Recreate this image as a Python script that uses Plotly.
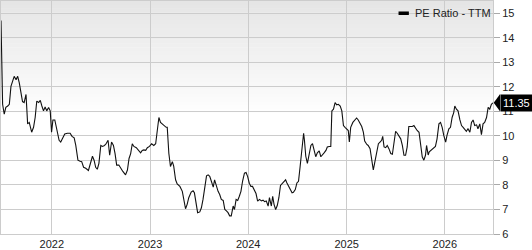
import plotly.graph_objects as go

dates = [
    "2021-06-26", "2021-07-02", "2021-07-08", "2021-07-14", "2021-07-21", "2021-07-27",
    "2021-08-02", "2021-08-08", "2021-08-14", "2021-08-21", "2021-08-27", "2021-09-02",
    "2021-09-08", "2021-09-14", "2021-09-20", "2021-09-27", "2021-10-03", "2021-10-09",
    "2021-10-18", "2021-10-25", "2021-10-31", "2021-11-06", "2021-11-13", "2021-11-19",
    "2021-11-25", "2021-12-01", "2021-12-07", "2021-12-13", "2021-12-20", "2021-12-26",
    "2021-12-31", "2022-01-05", "2022-01-12", "2022-01-20", "2022-01-28", "2022-02-03",
    "2022-02-10", "2022-02-18", "2022-02-28", "2022-03-10", "2022-03-17", "2022-03-25",
    "2022-03-31", "2022-04-08", "2022-04-16", "2022-04-22", "2022-04-29", "2022-05-07",
    "2022-05-17", "2022-05-26", "2022-06-01", "2022-06-07", "2022-06-13", "2022-06-19",
    "2022-06-25", "2022-07-02", "2022-07-08", "2022-07-14", "2022-07-20", "2022-07-29",
    "2022-08-04", "2022-08-11", "2022-08-18", "2022-08-24", "2022-08-30", "2022-09-07",
    "2022-09-14", "2022-09-22", "2022-10-02", "2022-10-09", "2022-10-15", "2022-10-21",
    "2022-10-27", "2022-11-02", "2022-11-11", "2022-11-21", "2022-11-27", "2022-12-03",
    "2022-12-09", "2022-12-16", "2022-12-22", "2022-12-30", "2023-01-07", "2023-01-15",
    "2023-01-22", "2023-01-28", "2023-02-03", "2023-02-09", "2023-02-15", "2023-02-23",
    "2023-03-02", "2023-03-06", "2023-03-12", "2023-03-18", "2023-03-25", "2023-03-30",
    "2023-04-06", "2023-04-12", "2023-04-22", "2023-05-01", "2023-05-07", "2023-05-13",
    "2023-05-19", "2023-05-25", "2023-06-03", "2023-06-10", "2023-06-15", "2023-06-22",
    "2023-06-27", "2023-07-05", "2023-07-11", "2023-07-17", "2023-07-23", "2023-07-30",
    "2023-08-05", "2023-08-11", "2023-08-17", "2023-08-24", "2023-08-29", "2023-09-05",
    "2023-09-11", "2023-09-17", "2023-09-23", "2023-09-30", "2023-10-06", "2023-10-12",
    "2023-10-18", "2023-10-24", "2023-10-30", "2023-11-06", "2023-11-11", "2023-11-17",
    "2023-11-23", "2023-11-29", "2023-12-05", "2023-12-11", "2023-12-18", "2023-12-24",
    "2023-12-30", "2024-01-05", "2024-01-11", "2024-01-17", "2024-01-24", "2024-01-30",
    "2024-02-05", "2024-02-12", "2024-02-19", "2024-02-25", "2024-03-02", "2024-03-08",
    "2024-03-15", "2024-03-20", "2024-03-27", "2024-04-01", "2024-04-06", "2024-04-12",
    "2024-04-18", "2024-04-24", "2024-04-30", "2024-05-07", "2024-05-13", "2024-05-19",
    "2024-05-24", "2024-05-30", "2024-06-05", "2024-06-12", "2024-06-17", "2024-06-24",
    "2024-06-30", "2024-07-06", "2024-07-12", "2024-07-19", "2024-07-25", "2024-07-28",
    "2024-08-02", "2024-08-08", "2024-08-15", "2024-08-21", "2024-08-27", "2024-09-02",
    "2024-09-08", "2024-09-14", "2024-09-21", "2024-09-27", "2024-10-03", "2024-10-09",
    "2024-10-16", "2024-10-21", "2024-10-28", "2024-11-03", "2024-11-07", "2024-11-13",
    "2024-11-19", "2024-11-25", "2024-12-01", "2024-12-08", "2024-12-14", "2024-12-20",
    "2024-12-26", "2025-01-01", "2025-01-07", "2025-01-11", "2025-01-16", "2025-01-24",
    "2025-02-01", "2025-02-07", "2025-02-13", "2025-02-20", "2025-02-26", "2025-03-04",
    "2025-03-09", "2025-03-17", "2025-03-22", "2025-03-29", "2025-04-04", "2025-04-10",
    "2025-04-16", "2025-04-23", "2025-04-29", "2025-05-05", "2025-05-11", "2025-05-15",
    "2025-05-20", "2025-05-26", "2025-06-01", "2025-06-07", "2025-06-14", "2025-06-20",
    "2025-06-26", "2025-07-02", "2025-07-08", "2025-07-14", "2025-07-21", "2025-07-27",
    "2025-08-02", "2025-08-08", "2025-08-14", "2025-08-20", "2025-08-27", "2025-09-02",
    "2025-09-08", "2025-09-14", "2025-09-20", "2025-09-27", "2025-10-03", "2025-10-09",
    "2025-10-15", "2025-10-21", "2025-10-25", "2025-10-31", "2025-11-04", "2025-11-10",
    "2025-11-19", "2025-11-27", "2025-12-03", "2025-12-10", "2025-12-16", "2025-12-22",
    "2025-12-28", "2026-01-04", "2026-01-09", "2026-01-16", "2026-01-22", "2026-01-28",
    "2026-02-03", "2026-02-07", "2026-02-13", "2026-02-19", "2026-02-26", "2026-03-04",
    "2026-03-10", "2026-03-16", "2026-03-22", "2026-03-28", "2026-04-04", "2026-04-10",
    "2026-04-16", "2026-04-22", "2026-04-29", "2026-05-04", "2026-05-11", "2026-05-17",
    "2026-05-23", "2026-05-29", "2026-06-05", "2026-06-11", "2026-06-17", "2026-06-23",
    "2026-06-29",
]

pe_ratio = [
    14.70, 11.29, 10.89, 11.16, 11.22, 11.29,
    12.02, 12.29, 12.43, 12.29, 12.43, 12.16,
    11.69, 11.40, 11.36, 11.69, 10.49, 10.55,
    10.15, 10.35, 10.75, 11.42, 11.36, 11.45,
    11.22, 11.02, 11.18, 11.02, 11.16, 11.02,
    10.15, 10.65, 10.65, 10.29, 9.82, 9.75,
    9.92, 10.08, 10.11, 10.11, 9.98, 9.92,
    9.61, 9.01, 8.97, 8.95, 8.72, 8.68,
    8.59, 9.01, 9.17, 9.01, 8.72, 8.64,
    8.88, 9.61, 9.57, 9.60, 9.65, 9.82,
    9.21, 9.75, 9.61, 9.28, 8.81, 8.81,
    8.68, 8.55, 8.41, 8.61, 9.08, 9.28,
    9.68, 9.57, 9.52, 9.39, 9.31, 9.41,
    9.43, 9.41, 9.52, 9.57, 9.68, 9.61,
    9.68, 10.22, 10.75, 10.55, 10.49, 10.42,
    10.35, 10.35, 9.28, 8.75, 8.95, 8.77,
    8.21, 8.04, 7.94, 7.74, 7.34, 7.03,
    7.21, 7.48, 7.71, 7.76, 7.68, 7.28,
    6.87, 6.90, 7.07, 7.41, 7.94, 8.37,
    8.41, 8.35, 8.15, 7.91, 8.21, 7.94,
    7.74, 7.61, 7.41, 7.37, 7.00, 6.94,
    6.87, 6.74, 6.74, 7.14, 7.00, 7.41,
    7.37, 7.54, 7.74, 8.15, 8.48, 8.51,
    8.34, 8.07, 7.94, 7.94, 7.81, 7.65,
    7.34, 7.41, 7.35, 7.38, 7.32, 7.35,
    7.14, 7.48, 7.14, 7.54, 7.21, 7.00,
    7.16, 7.48, 7.98, 8.08, 8.15, 8.21,
    8.08, 7.94, 7.78, 7.68, 7.70, 7.81,
    8.08, 8.15, 8.75, 9.55, 10.11, 9.82,
    9.17, 8.88, 9.28, 9.61, 9.68, 9.39,
    9.15, 9.31, 9.39, 9.15, 9.21, 9.31,
    9.41, 9.55, 9.57, 9.57, 11.02, 11.09,
    11.36, 11.27, 11.29, 11.22, 11.02, 10.42,
    10.35, 10.29, 10.22, 9.75, 10.35, 10.55,
    10.65, 10.73, 10.65, 10.49, 10.38, 10.15,
    9.79, 9.65, 9.61, 9.48, 9.01, 8.61,
    8.95, 9.35, 9.68, 9.75, 9.82, 9.98,
    9.55, 9.52, 9.61, 9.48, 9.28, 9.25,
    9.75, 10.19, 10.11, 10.02, 9.88, 9.61,
    9.21, 9.21, 9.55, 10.38, 10.38, 10.38,
    10.42, 10.29, 10.22, 10.15, 9.57, 9.15,
    9.01, 9.21, 9.61, 9.22, 9.35, 9.41,
    9.48, 9.57, 9.88, 10.49, 10.55, 10.35,
    10.02, 9.75, 10.02, 10.29, 10.35, 10.75,
    10.95, 11.22, 11.09, 11.02, 10.65, 10.42,
    10.35, 10.25, 10.19, 10.29, 10.15, 10.55,
    10.65, 10.42, 10.45, 10.29, 10.49, 10.05,
    10.49, 10.55, 10.75, 11.16, 11.09, 11.29,
    11.35,
]

series_name = "PE Ratio - TTM"
year_ticks = ["2022-01-01", "2023-01-01", "2024-01-01", "2025-01-01", "2026-01-01"]
year_labels = ["2022", "2023", "2024", "2025", "2026"]
y_ticks = [6, 7, 8, 9, 10, 11, 12, 13, 14, 15]

FONT = "Arial, 'Liberation Sans', Helvetica, sans-serif"
GRID = "#cccccc"

fig = go.Figure()
fig.add_trace(go.Scatter(
    x=dates, y=pe_ratio, mode="lines",
    line=dict(color="#111111", width=1.1),
    name=series_name, showlegend=False, hoverinfo="skip",
))

shapes = []
# vertical gradient background (light gray at top fading to white)
n_str = 30
top_c, bot_c = 229, 255
for i in range(n_str):
    y1 = 1 - i * 0.5 / n_str
    y0 = 1 - (i + 1) * 0.5 / n_str
    c = round(top_c + (bot_c - top_c) * (i + 0.5) / n_str)
    shapes.append(dict(type="rect", xref="paper", yref="paper",
                       x0=0, x1=1, y0=y0, y1=y1 + 0.002,
                       fillcolor=f"rgb({c},{c},{c})", line=dict(width=0),
                       layer="below"))

# legend swatch
shapes.append(dict(type="rect", xref="paper", yref="paper",
                   x0=0.808, x1=0.829, y0=0.940, y1=0.955,
                   fillcolor="#000000", line=dict(width=0), layer="above"))

last_val = pe_ratio[-1]
# pointer triangle for last value label
shapes.append(dict(type="path", xref="paper", yref="y",
                   path=f"M 1.0015,{last_val} L 1.0145,{last_val + 0.36} L 1.0145,{last_val - 0.36} Z",
                   fillcolor="#000000", line=dict(width=0), layer="above"))

annotations = [
    dict(text=series_name, xref="paper", yref="paper", x=0.838, y=0.947,
         xanchor="left", yanchor="middle", showarrow=False,
         font=dict(family=FONT, size=11, color="#222222")),
    dict(text=f"{last_val:.2f}", xref="paper", yref="y", x=1, y=last_val,
         xanchor="left", yanchor="middle", xshift=7, showarrow=False,
         bgcolor="#000000", borderpad=2,
         font=dict(family=FONT, size=11, color="#ffffff")),
]

fig.update_layout(
    width=532, height=250,
    margin=dict(l=0, r=39, t=0, b=13),
    paper_bgcolor="#ffffff", plot_bgcolor="#ffffff",
    font=dict(family=FONT, size=11, color="#222222"),
    shapes=shapes, annotations=annotations,
    showlegend=False,
    xaxis=dict(
        type="date", range=[dates[0], dates[-1]],
        tickvals=year_ticks, ticktext=year_labels,
        showgrid=True, gridcolor=GRID, gridwidth=1,
        showline=True, linecolor=GRID, linewidth=1, mirror=True,
        ticks="", tickfont=dict(size=11, color="#222222"),
        zeroline=False,
    ),
    yaxis=dict(
        side="right", range=[6, 15.5],
        tickvals=y_ticks, ticktext=[str(v) for v in y_ticks],
        showgrid=True, gridcolor=GRID, gridwidth=1,
        showline=True, linecolor=GRID, linewidth=1, mirror=True,
        ticks="outside", ticklen=6, tickcolor="#aaaaaa", tickwidth=1,
        tickfont=dict(size=11, color="#222222"),
        zeroline=False,
    ),
)

fig.write_html("out.html")
